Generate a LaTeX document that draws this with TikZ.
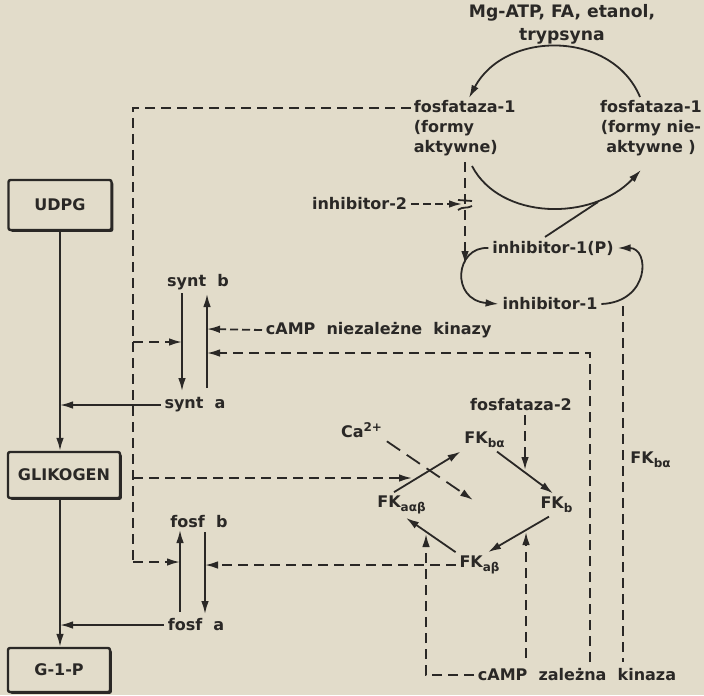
\documentclass[tikz,border=0pt]{standalone}
\usepackage{fontspec}
\setmainfont{DejaVu Sans}
\usetikzlibrary{arrows.meta,shadows}

\definecolor{paper}{RGB}{226,220,202}
\definecolor{ink}{RGB}{42,40,38}

\tikzset{
  lbl/.style={font=\bfseries\fontsize{8}{10}\selectfont, text=ink, inner sep=1.5pt},
  box/.style={lbl, draw=ink, fill=paper, line width=1.2pt, rounded corners=1pt,
    drop shadow={shadow xshift=0.9pt, shadow yshift=-0.9pt, opacity=1, fill=ink}},
  arr/.style={-{Latex[length=6.5pt,width=3.8pt]}},
  dsh/.style={dash pattern=on 5pt off 3pt},
}

\begin{document}
\begin{tikzpicture}[x=0.5pt, y=-0.5pt, line width=0.9pt, draw=ink]
  \fill[paper] (0,0) rectangle (704,695);
  \useasboundingbox (0,0) rectangle (704,695);

  % boxes on the left
  \node[box, minimum width=51.5pt, minimum height=25pt] (udpg) at (60,205) {UDPG};
  \node[box, minimum width=56pt, minimum height=23pt] (glik) at (64,475) {GLIKOGEN};
  \node[box, minimum width=51pt, minimum height=22pt] (g1p) at (59,670) {G-1-P};

  % labels
  \node[lbl, align=center, font=\bfseries\fontsize{8.6}{11.5}\selectfont] (title) at (562,24)
    {Mg-ATP, FA, etanol,\\trypsyna};
  \node[lbl, align=left, anchor=west] (fos1a) at (410,128) {fosfataza-1\\(formy\\aktywne)};
  \node[lbl, align=center] (fos1n) at (651,128) {fosfataza-1\\(formy nie-\\aktywne )};
  \node[lbl, anchor=east] (inh2) at (411,204) {inhibitor-2};
  \node[lbl] (inh1P) at (553,248) {inhibitor-1(P)};
  \node[lbl] (inh1) at (550,304) {inhibitor-1};
  \node[lbl] (syntb) at (198,282) {synt\ \ b};
  \node[lbl] (synta) at (195,405) {synt\ \ a};
  \node[lbl, anchor=west] (camp1) at (262,330) {cAMP\ \ niezależne\ \ kinazy};
  \node[lbl] (fosfb) at (199,522) {fosf\ \ b};
  \node[lbl] (fosfa) at (196,625) {fosf\ \ a};
  \node[lbl] (fosf2) at (521,405) {fosfataza-2};
  \node[lbl] (ca) at (362,430) {Ca\textsuperscript{2+}};
  \node[lbl] (fkba) at (485,440) {FK\textsubscript{bα}};
  \node[lbl] (fkb) at (557,505) {FK\textsubscript{b}};
  \node[lbl] (fkaab) at (402,505) {FK\textsubscript{aαβ}};
  \node[lbl] (fkab) at (480,565) {FK\textsubscript{aβ}};
  \node[lbl] (fkba2) at (651,460) {FK\textsubscript{bα}};
  \node[lbl] (camp2) at (577,675) {cAMP\ \ zależna\ \ kinaza};

  % main pathway
  \draw[arr] (udpg.south) -- (udpg.south |- glik.north);
  \draw[arr] (udpg.south |- glik.south) -- (udpg.south |- g1p.north);
  \draw[arr] (synta.west) -- (synta.west -| udpg.south);
  \draw[arr] (fosfa.west) -- (fosfa.west -| udpg.south);
  \draw[arr] (182,293) -- (182,391);
  \draw[arr] (207,388) -- (207,294);
  \draw[arr] (180,612) -- (180,530);
  \draw[arr] (205,532) -- (205,614);

  % fosfataza-1 cycle
  \draw[arr] (640,97) .. controls (612,30) and (505,30) .. (469,98);
  \draw[arr] (472,166) .. controls (500,220) and (592,222) .. (641,170);
  \draw ([xshift=-4pt]inh1P.north) -- (598,202);

  % inhibitor-1 cycle
  \draw[arr] (inh1P.west) .. controls (455,246) and (450,300) .. (inh1.west);
  \draw[arr] (inh1.east) .. controls (650,302) and (650,248) .. (inh1P.east);
  \draw[dsh, arr] (465,162) -- (465,264);
  \draw[dsh, arr, dash pattern=on 4pt off 2pt] (inh2.east) -- (462,204);
  \draw (458,200) -- (472,201);
  \draw (458,210) .. controls (463,206) and (467,209) .. (472,206);

  % dashed control lines on the left
  \draw[dsh] (411,108) -- (133,108) -- (133,562);
  \draw[dsh, arr] (133,562) -- (180,562);
  \draw[dsh, arr] (133,342) -- (182,342);
  \draw[dsh, arr] (133,478) -- (412,478);
  \draw[dsh, arr, dash pattern=on 4pt off 2pt] (camp1.west) -- (207,329);
  \draw[dsh, arr] (590,662) -- (590,353) -- (207,353);
  \draw[dsh] (623,306) -- (623,662);
  \draw[dsh, arr] (fkab.west) -- (fkab.west -| 205,0);

  % FK diamond
  \draw[arr] ([xshift=-4pt]fkaab.north) -- (fkba.south west);
  \draw[arr] ([xshift=6pt]fkba.south) -- ([xshift=-2pt]fkb.north);
  \draw[arr] ([xshift=-4pt]fkb.south) -- ([xshift=4pt]fkab.north);
  \draw[arr] (fkab.north west) -- ([xshift=2pt]fkaab.south);
  \draw[dsh, arr] ([xshift=2pt]fosf2.south) -- (525,470);
  \draw[dsh, arr, dash pattern=on 8pt off 4pt] (ca.south east) -- (473,500);
  \draw[dsh, arr] (camp2.west) -- (426,675) -- (426,534);
  \draw[dsh, arr] (526,658) -- (526,532);
\end{tikzpicture}
\end{document}
